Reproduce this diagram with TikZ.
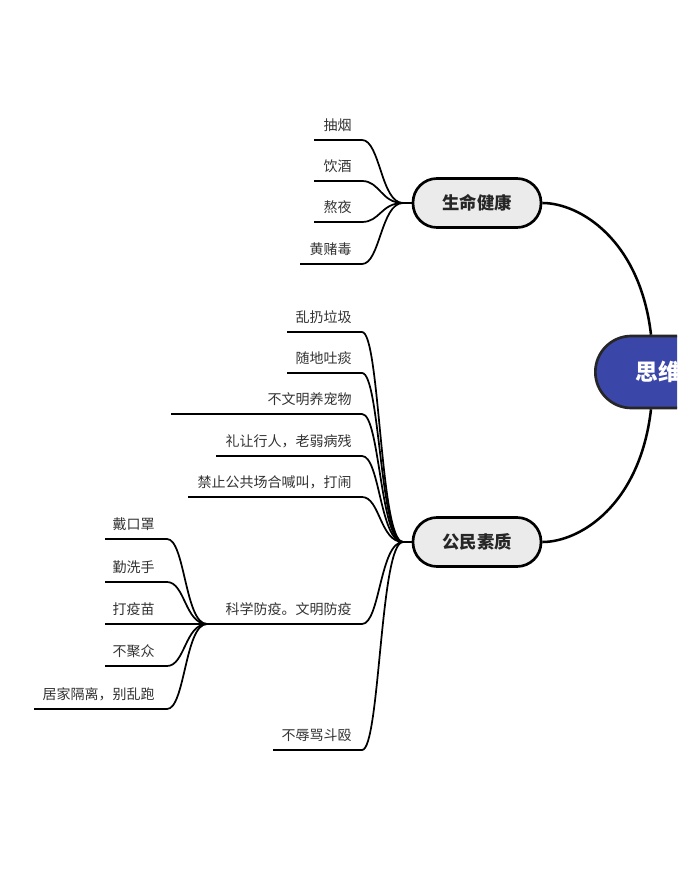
\documentclass[tikz,border=0pt]{standalone}
\usepackage{fontspec}
\setmainfont{Noto Sans CJK SC}
\usetikzlibrary{calc}
\definecolor{rootblue}{HTML}{3B47A8}
\definecolor{nodegray}{HTML}{EBEBEB}
\definecolor{txt}{HTML}{333333}
\begin{document}
\begin{tikzpicture}[x=0.75pt,y=-0.75pt,
 leaf/.style={anchor=east, inner sep=0pt, font=\fontsize{10.5}{12}\selectfont, text=txt},
 leafline/.style={line width=1.3pt, black},
 mainline/.style={line width=1.9pt, black},
 topic/.style={draw=black, line width=2pt, fill=nodegray, rounded corners=18pt, minimum width=96pt, minimum height=36.75pt, font=\fontsize{13}{15}\selectfont\bfseries, text=black!85},
 rootnode/.style={draw=black!85, line width=2pt, fill=rootblue, rounded corners=27pt, minimum height=54pt, minimum width=200pt, anchor=west, text width=140pt, align=left, inner xsep=28pt, font=\fontsize{17}{19}\selectfont\bfseries, text=white}]
\useasboundingbox (0,0) rectangle (677,887);
\clip (0,0) rectangle (677,887);
\fill[white] (0,0) rectangle (677,887);

% root and topics
\node[rootnode] (root) at (594,372) {思维};
\node[topic] (life) at (477,203) {生命健康};
\node[topic] (civic) at (477,542) {公民素质};

\coordinate (rt) at ($(root.north west)+(57,0)$);
\coordinate (rb) at ($(root.south west)+(57,0)$);
\draw[mainline] (life.east) .. controls (580,203) and (640,240) .. (rt);
\draw[mainline] (civic.east) .. controls (580,542) and (640,505) .. (rb);

% 生命健康 leaves
\coordinate (j1) at (403,203);
\draw[leafline] (j1) -- (life.west);
\foreach \t/\y/\xl [count=\i] in {抽烟/140/314,饮酒/181/314,熬夜/222/314,黄赌毒/264/300}{
  \node[leaf] (h\i) at (352,\y-15) {\t};
  \coordinate (hs\i) at (\xl,\y);
  \coordinate (he\i) at (362,\y);
  \draw[leafline] (hs\i) -- (he\i) .. controls (380,\y) and (381,203) .. (j1);
}

% 公民素质 leaves
\coordinate (j2) at (403,542);
\draw[leafline] (j2) -- (civic.west);
\foreach \t/\y/\xl [count=\i] in {乱扔垃圾/332/287,随地吐痰/373/287,不文明养宠物/414/171,礼让行人，老弱病残/456/216,禁止公共场合喊叫，打闹/497/188,不辱骂斗殴/750/273}{
  \node[leaf] (c\i) at (352,\y-15) {\t};
  \coordinate (cs\i) at (\xl,\y);
  \coordinate (ce\i) at (362,\y);
  \draw[leafline] (cs\i) -- (ce\i) .. controls (380,\y) and (380,542) .. (j2);
}

% 科学防疫 sub-branch
\coordinate (j3) at (207,624);
\coordinate (ke) at (362,624);
\node[leaf] (k) at (352,609) {科学防疫。文明防疫};
\draw[leafline] (j3) -- (ke) .. controls (380,624) and (380,542) .. (j2);
\foreach \t/\y/\xl [count=\i] in {戴口罩/539/105,勤洗手/582/105,打疫苗/624/105,不聚众/666/105,居家隔离，别乱跑/709/34}{
  \node[leaf] (s\i) at (155,\y-15) {\t};
  \coordinate (ss\i) at (\xl,\y);
  \coordinate (se\i) at (167,\y);
  \draw[leafline] (ss\i) -- (se\i) .. controls (185,\y) and (185,624) .. (j3);
}
\end{tikzpicture}
\end{document}
